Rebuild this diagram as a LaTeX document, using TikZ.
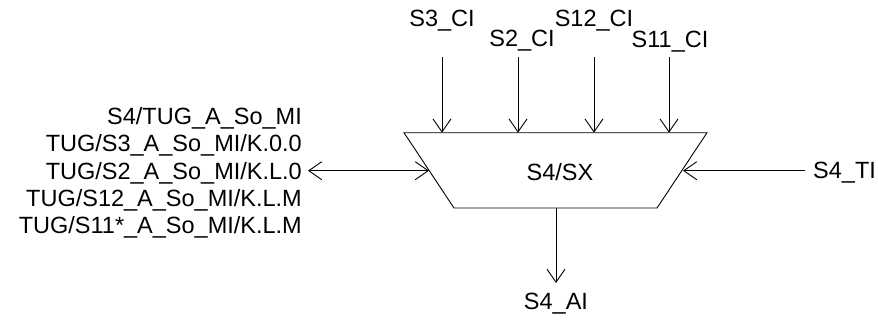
\documentclass[tikz,border=0pt]{standalone}
\usepackage{fontspec}
\setmainfont{Liberation Sans}
\usetikzlibrary{arrows.meta}
\begin{document}
\begin{tikzpicture}[x=1pt,y=-1pt,
  lbl/.style={inner sep=0pt,font=\fontsize{23.5}{27.3}\selectfont},
  conn/.style={line width=0.9pt,-{Straight Barb[length=13pt,width=18pt,line width=0.9pt]}},
  biconn/.style={line width=0.9pt,{Straight Barb[length=13pt,width=18pt,line width=0.9pt]}-{Straight Barb[length=13pt,width=18pt,line width=0.9pt]}},
  box/.style={line width=0.9pt}]
\useasboundingbox (0,0) rectangle (878,321);
% trapezoid
\coordinate (tl) at (404,132.7);
\coordinate (tr) at (707,132.7);
\coordinate (br) at (657,208);
\coordinate (bl) at (454,208);
\draw[box] (tl) -- (tr) -- (br) -- (bl) -- cycle;
\node[lbl,anchor=base] (sx) at (560,180) {S4/SX};
% top inputs
\node[lbl,anchor=base] (s3) at (442,27) {S3\_CI};
\node[lbl,anchor=base] (s2) at (522,47) {S2\_CI};
\node[lbl,anchor=base] (s12) at (594,27) {S12\_CI};
\node[lbl,anchor=base] (s11) at (670,48) {S11\_CI};
\coordinate (a3) at (442,57);   \coordinate (e3) at (442,132.7);
\coordinate (a2) at (518,57);   \coordinate (e2) at (518,132.7);
\coordinate (a12) at (594,57);  \coordinate (e12) at (594,132.7);
\coordinate (a11) at (669,57);  \coordinate (e11) at (669,132.7);
\draw[conn] (a3) -- (e3);
\draw[conn] (a2) -- (e2);
\draw[conn] (a12) -- (e12);
\draw[conn] (a11) -- (e11);
% left side
\node[lbl,anchor=base east] (l1) at (302,124.6) {S4/TUG\_A\_So\_MI};
\node[lbl,anchor=base east] (l2) at (302,151.9) {TUG/S3\_A\_So\_MI/K.0.0};
\node[lbl,anchor=base east] (l3) at (302,179.2) {TUG/S2\_A\_So\_MI/K.L.0};
\node[lbl,anchor=base east] (l4) at (302,206.5) {TUG/S12\_A\_So\_MI/K.L.M};
\node[lbl,anchor=base east] (l5) at (302,233.8) {TUG/S11*\_A\_So\_MI/K.L.M};
\coordinate (lw) at (308,170.7);
\coordinate (le) at (429,170.7);
\draw[biconn] (lw) -- (le);
% right side
\node[lbl,anchor=base west] (ti) at (813,178) {S4\_TI};
\coordinate (rs) at (805,170.7);
\coordinate (re) at (683,170.7);
\draw[conn] (rs) -- (re);
% bottom
\node[lbl,anchor=base] (ai) at (556,309) {S4\_AI};
\coordinate (bs) at (556,208);
\coordinate (be) at (556,283);
\draw[conn] (bs) -- (be);
\end{tikzpicture}
\end{document}
